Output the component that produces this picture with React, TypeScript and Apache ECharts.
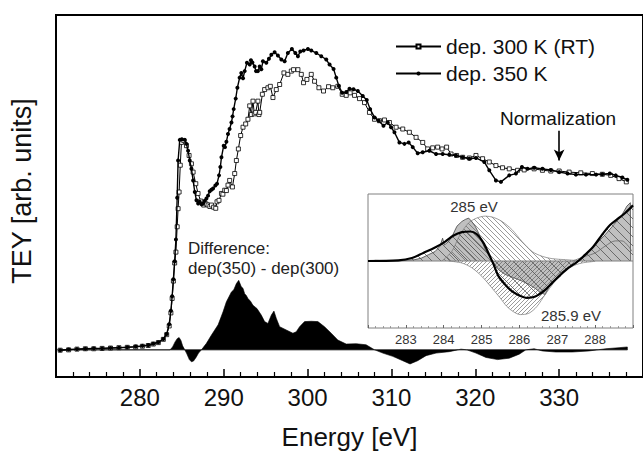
import React, { useEffect, useRef } from 'react';
import * as echarts from 'echarts';

const FONT = '"Liberation Sans", Arial, Helvetica, sans-serif';

// ---------- main spectra: [energy eV, TEY arb. units] ----------
const tey300: number[][] = [
  [270.5, -0.1], [271.5, 0.0], [272.5, 0.2], [273.5, 0.3], [274.5, 0.3], [275.5, 0.4], [276.5, 0.5],
  [277.5, 0.6], [278.5, 0.7], [279.5, 0.8], [280.3, 1.0], [281.0, 1.2], [281.6, 1.6], [282.2, 2.0],
  [282.8, 2.9], [283.2, 4.2], [283.5, 6.6], [283.7, 10.2], [283.85, 14.2], [284.0, 19.0], [284.15, 24.0],
  [284.3, 27.0], [284.45, 34.0], [284.56, 39.0], [284.68, 43.6], [284.82, 51.0], [284.96, 57.3],
  [285.24, 57.8], [285.56, 56.4], [285.87, 53.7], [286.15, 51.4], [286.35, 49.1], [286.67, 45.9],
  [286.94, 43.2], [287.26, 41.1], [287.62, 40.0], [287.9, 40.3], [288.13, 40.0], [288.35, 39.6],
  [288.54, 40.0], [288.8, 39.4], [289.05, 39.1], [289.2, 40.9], [289.44, 41.3], [289.73, 43.2],
  [289.9, 43.0], [290.12, 44.1], [290.32, 44.0], [290.51, 45.5], [290.71, 46.8], [291.04, 45.0],
  [291.31, 48.7], [291.51, 52.3], [291.75, 55.5], [292.02, 59.2], [292.3, 61.5], [292.62, 62.4],
  [292.89, 63.7], [293.1, 67.4], [293.3, 65.0], [293.49, 68.7], [293.65, 65.2], [293.81, 65.6],
  [294.08, 68.7], [294.2, 65.0], [294.29, 65.6], [294.61, 70.6], [294.88, 71.9], [295.27, 72.4],
  [295.56, 72.8], [295.87, 69.7], [296.27, 71.9], [296.67, 73.3], [297.18, 76.5], [297.65, 76.1],
  [298.06, 77.0], [298.33, 77.4], [298.85, 77.4], [299.25, 76.1], [299.52, 73.8], [299.92, 74.7],
  [300.44, 76.1], [300.83, 74.2], [301.35, 72.4], [301.9, 71.5], [302.5, 72.7], [303.01, 72.4],
  [303.61, 72.8], [304.13, 70.6], [304.61, 70.3], [305.08, 71.0], [305.6, 70.3], [306.19, 69.4],
  [306.79, 68.3], [307.38, 65.6], [307.98, 63.7], [308.57, 63.3], [309.17, 63.5], [309.76, 62.8],
  [310.56, 61.5], [311.35, 61.0], [312.14, 60.1], [312.94, 58.7], [313.73, 57.3], [314.32, 55.5],
  [314.92, 55.8], [315.51, 56.0], [316.04, 55.5], [316.58, 56.0], [317.11, 54.1], [317.77, 53.7],
  [318.49, 53.2], [319.29, 53.0], [320.08, 53.7], [320.87, 52.8], [321.67, 51.9], [322.46, 50.9],
  [323.25, 50.3], [324.05, 50.0], [325.04, 49.6], [325.83, 49.7], [327.02, 50.0], [328.01, 49.6],
  [329.01, 49.4], [330.0, 49.4], [331.19, 49.1], [332.58, 48.9], [333.96, 48.7], [335.15, 48.5],
  [336.15, 48.2], [337.14, 47.3], [338.01, 46.4],
];

const tey350: number[][] = [
  [270.5, -0.1], [271.5, 0.1], [272.5, 0.2], [273.5, 0.3], [274.5, 0.4], [275.5, 0.4], [276.5, 0.5],
  [277.5, 0.6], [278.5, 0.7], [279.5, 0.9], [280.3, 1.1], [281.0, 1.3], [281.6, 1.7], [282.2, 2.1],
  [282.8, 3.0], [283.2, 4.4], [283.5, 7.1], [283.7, 10.8], [283.85, 14.8], [284.0, 19.5], [284.15, 24.5],
  [284.3, 30.5], [284.45, 42.0], [284.56, 52.3], [284.76, 58.0], [285.0, 58.2], [285.36, 58.0],
  [285.56, 56.9], [285.75, 55.0], [285.95, 52.3], [286.15, 50.0], [286.35, 46.8], [286.55, 43.6],
  [286.75, 41.3], [286.95, 40.4], [287.14, 40.9], [287.35, 40.2], [287.54, 40.4], [287.75, 41.2],
  [287.94, 41.8], [288.13, 42.6], [288.33, 43.8], [288.53, 44.2], [288.73, 44.6], [289.0, 45.4],
  [289.2, 45.9], [289.44, 48.2], [289.6, 50.5], [289.73, 53.2], [290.0, 56.4], [290.15, 56.0],
  [290.32, 57.5], [290.51, 59.6], [290.7, 61.0], [290.92, 62.8], [291.05, 64.5], [291.19, 66.5],
  [291.43, 69.4], [291.63, 72.4], [291.9, 75.2], [292.1, 76.5], [292.3, 75.0], [292.5, 77.0],
  [292.77, 79.3], [293.1, 78.8], [293.25, 80.0], [293.42, 79.4], [293.69, 78.3], [293.85, 77.0],
  [294.08, 77.0], [294.29, 78.3], [294.48, 77.5], [294.68, 79.7], [295.08, 79.3], [295.39, 80.4],
  [295.68, 81.5], [296.07, 82.2], [296.46, 81.3], [296.87, 80.2], [297.26, 79.7], [297.65, 82.0],
  [298.13, 83.1], [298.54, 82.0], [298.85, 81.1], [299.13, 82.4], [299.52, 82.7], [300.04, 83.1],
  [300.44, 82.7], [301.04, 82.0], [301.63, 81.1], [302.23, 80.2], [302.62, 78.8], [303.1, 77.6],
  [303.42, 75.2], [303.73, 72.9], [304.13, 71.0], [304.61, 71.2], [305.0, 72.1], [305.48, 72.0],
  [305.99, 71.5], [306.58, 70.1], [307.06, 69.0], [307.46, 66.5], [307.98, 64.2], [308.49, 63.3],
  [309.05, 61.9], [309.56, 62.8], [309.96, 61.5], [310.36, 60.1], [310.95, 57.3], [311.55, 56.9],
  [312.06, 57.3], [312.54, 56.0], [313.13, 54.3], [313.73, 54.6], [314.52, 55.0], [315.32, 54.1],
  [316.11, 54.1], [316.9, 53.9], [317.7, 53.7], [318.49, 53.2], [319.29, 52.8], [320.08, 53.0],
  [321.07, 51.9], [321.67, 49.6], [322.46, 46.8], [323.06, 46.4], [324.05, 48.2], [324.85, 48.7],
  [325.56, 50.5], [326.23, 50.0], [327.02, 50.3], [328.01, 50.0], [329.01, 49.7], [330.0, 49.1],
  [331.0, 48.7], [332.0, 48.4], [333.2, 48.4], [334.4, 48.4], [335.15, 48.5], [336.04, 48.7],
  [336.75, 48.2], [337.54, 47.6], [338.13, 47.0],
];

// difference dep(350) - dep(300)
const difference: number[][] = [
  [270.5, 0], [283.6, 0], [283.9, 0.8], [284.2, 2.2], [284.45, 3.1], [284.68, 3.4], [284.9, 2.6],
  [285.1, 1.1], [285.36, 0], [285.6, -1.1], [285.9, -2.7], [286.15, -3.3], [286.4, -3.1], [286.7, -2.1],
  [287.0, -0.9], [287.34, 0], [287.94, 1.8], [288.54, 4.1], [289.33, 6.9], [289.92, 10.5], [290.32, 13.3],
  [290.92, 16.0], [291.2, 16.6], [291.51, 18.3], [291.79, 19.2], [292.1, 17.4], [292.3, 17.0],
  [292.5, 15.5], [292.7, 15.0], [292.89, 14.2], [293.2, 13.4], [293.49, 12.3], [293.97, 11.4],
  [294.48, 9.6], [294.88, 7.8], [295.27, 7.3], [295.68, 9.6], [295.99, 10.7], [296.27, 8.7],
  [296.67, 6.4], [297.46, 5.5], [298.25, 4.6], [298.65, 5.0], [299.05, 6.4], [299.64, 7.8],
  [300.44, 7.9], [301.23, 7.8], [302.02, 6.4], [302.82, 4.6], [303.61, 2.7], [304.61, 1.6],
  [305.8, 1.7], [306.98, 1.4], [307.78, 0.3], [308.0, 0], [308.97, -0.9], [310.16, -1.8],
  [311.35, -3.0], [312.22, -3.9], [313.13, -3.0], [314.13, -1.6], [315.32, -0.9], [316.9, -0.5],
  [318.3, 0.2], [319.0, 0], [320.08, -0.9], [321.27, -2.1], [322.66, -2.7], [324.05, -2.3],
  [325.24, -1.2], [326.03, 0], [327.02, 0.3], [328.0, -0.3], [329.6, -0.6], [331.58, -0.6],
  [333.57, -0.3], [335.56, 0.3], [337.14, 0.6], [338.13, 0.8], [338.14, 0],
];
const mainBaseline: number[][] = [[270, 0], [338.14, 0]];
const normArrow = { energy: 330, from: 60.5, to: 52.3 };
const xTicksMain = { min: 270, max: 340, interval: 10 };

// ---------- inset: [energy eV, normalized intensity] ----------
const insetMeasured: number[][] = [
  [282.0, 0], [282.2, 0.01], [282.4, 0.005], [282.8, 0], [283.24, 0.02], [283.42, 0.045], [283.6, 0.095],
  [283.77, 0.14], [283.9, 0.22], [283.97, 0.34], [284.02, 0.24], [284.13, 0.29], [284.24, 0.39],
  [284.35, 0.52], [284.48, 0.59], [284.57, 0.62], [284.66, 0.64], [284.74, 0.59], [284.83, 0.52],
  [284.92, 0.42], [285.01, 0.29], [285.1, 0.17], [285.23, 0.045], [285.32, -0.03], [285.45, -0.13],
  [285.62, -0.2], [285.85, -0.25], [286.07, -0.3], [286.25, -0.35], [286.42, -0.41], [286.55, -0.47],
  [286.68, -0.5], [286.77, -0.4], [286.9, -0.3], [287.08, -0.18], [287.3, -0.095], [287.57, -0.005],
  [287.74, 0.095], [288.0, 0.24], [288.26, 0.39], [288.49, 0.54], [288.71, 0.69], [288.84, 0.82],
  [288.93, 0.87], [288.94, 0],
];
const insetFit: number[][] = [
  [282.0, 0], [282.8, 0.01], [283.16, 0.045], [283.46, 0.12], [283.77, 0.2], [284.04, 0.29],
  [284.26, 0.38], [284.48, 0.43], [284.7, 0.44], [284.87, 0.4], [285.05, 0.27], [285.18, 0.12],
  [285.32, -0.055], [285.45, -0.23], [285.62, -0.35], [285.8, -0.45], [285.98, -0.51], [286.2, -0.55],
  [286.42, -0.53], [286.64, -0.45], [286.86, -0.33], [287.08, -0.21], [287.3, -0.1], [287.52, -0.015],
  [287.74, 0.095], [287.96, 0.22], [288.18, 0.39], [288.4, 0.54], [288.62, 0.64], [288.8, 0.72],
  [289.0, 0.83],
];
const peak285: number[][] = [
  [283.95, 0], [284.21, 0.14], [284.43, 0.39], [284.66, 0.57], [284.87, 0.64], [285.1, 0.67],
  [285.32, 0.65], [285.54, 0.59], [285.8, 0.47], [286.07, 0.29], [286.34, 0.14], [286.6, 0.07],
  [286.86, 0.035], [287.21, 0.02], [287.57, 0.005],
];
const peak2859: number[][] = [
  [284.13, 0], [284.48, -0.03], [284.74, -0.1], [285.01, -0.23], [285.27, -0.4], [285.49, -0.55],
  [285.67, -0.68], [285.85, -0.76], [286.02, -0.8], [286.25, -0.78], [286.46, -0.68], [286.68, -0.5],
  [286.9, -0.33], [287.13, -0.18], [287.39, -0.08], [287.65, -0.03], [288.0, -0.005],
];
const peakHigh: number[][] = [
  [287.4, 0], [287.74, 0.07], [288.0, 0.12], [288.26, 0.22], [288.53, 0.3], [288.71, 0.3],
  [288.88, 0.22], [288.97, 0.145],
];
const insetBaseline: number[][] = [[282, 0], [289, 0]];
const xTicksInset = { min: 282, max: 289, interval: 1 };

function hatch(dir: 'back' | 'fwd', s: number, color: string, w: number) {
  const d =
    dir === 'back'
      ? `M0,0 L${s},${s} M-1,${s - 1} L1,${s + 1} M${s - 1},-1 L${s + 1},1`
      : `M0,${s} L${s},0 M-1,1 L1,-1 M${s - 1},${s + 1} L${s + 1},${s - 1}`;
  const svg = `<svg xmlns="http://www.w3.org/2000/svg" width="${s}" height="${s}"><path d="${d}" stroke="${color}" stroke-width="${w}" fill="none"/></svg>`;
  return {
    image: 'data:image/svg+xml;charset=utf-8,' + encodeURIComponent(svg),
    repeat: 'repeat',
    imageWidth: s,
    imageHeight: s,
  } as any;
}

export default function App() {
  const ref = useRef<HTMLDivElement>(null);
  useEffect(() => {
    if (!ref.current) return;
    const chart = echarts.init(ref.current, undefined, { renderer: 'svg' });
    const option: any = {
      animation: false,
      backgroundColor: '#fff',
      textStyle: { fontFamily: FONT },
      legend: {
        orient: 'vertical',
        left: 395,
        top: 36,
        padding: 0,
        itemWidth: 45,
        itemHeight: 5,
        itemGap: 6,
        selectedMode: false,
        textStyle: { fontSize: 21, color: '#111', fontFamily: FONT },
        data: ['dep. 300 K (RT)', 'dep. 350 K'],
      },
      grid: [
        { left: 56, top: 15, width: 588, height: 365, show: true, borderColor: '#000', borderWidth: 2, backgroundColor: 'transparent' },
        { left: 368, top: 194, width: 265, height: 134, show: true, borderColor: '#808080', borderWidth: 1, backgroundColor: '#fff', z: 10 },
      ],
      xAxis: [
        {
          type: 'value', gridIndex: 0, min: xTicksMain.min, max: xTicksMain.max, interval: xTicksMain.interval,
          name: 'Energy [eV]', nameLocation: 'middle', nameGap: 47,
          nameTextStyle: { fontSize: 26, color: '#111', fontFamily: FONT },
          axisLine: { show: true, onZero: false, lineStyle: { color: '#000', width: 2 } },
          axisTick: { show: true, inside: true, length: 8, lineStyle: { color: '#000', width: 1.5 } },
          minorTick: { show: true, splitNumber: 5, length: 5, lineStyle: { color: '#000', width: 1.2 } },
          axisLabel: { fontSize: 24, color: '#111', margin: 8, showMinLabel: false, showMaxLabel: false, fontFamily: FONT },
          splitLine: { show: false },
        },
        {
          type: 'value', gridIndex: 1, min: xTicksInset.min, max: xTicksInset.max, interval: xTicksInset.interval, z: 11,
          axisLine: { show: false, onZero: false },
          axisTick: { show: true, inside: true, length: 3, lineStyle: { color: '#666', width: 1 } },
          minorTick: { show: true, splitNumber: 5, length: 2, lineStyle: { color: '#888', width: 0.8 } },
          axisLabel: { fontSize: 13, color: '#333', margin: 5, showMinLabel: false, showMaxLabel: false, fontFamily: FONT },
          splitLine: { show: false },
        },
      ],
      yAxis: [
        {
          type: 'value', gridIndex: 0, min: -7.5, max: 92.5,
          axisLine: { show: false }, axisTick: { show: false }, axisLabel: { show: false }, splitLine: { show: false },
        },
        {
          type: 'value', gridIndex: 1, min: -1, max: 1, z: 11,
          axisLine: { show: false }, axisTick: { show: false }, axisLabel: { show: false }, splitLine: { show: false },
        },
      ],
      series: [
        {
          name: 'baseline', type: 'line', xAxisIndex: 0, yAxisIndex: 0, data: mainBaseline, symbol: 'none',
          lineStyle: { color: '#000', width: 0.8 }, z: 2, silent: true,
        },
        {
          name: 'Difference', type: 'line', xAxisIndex: 0, yAxisIndex: 0, data: difference, symbol: 'none',
          lineStyle: { color: '#000', width: 0.6 }, areaStyle: { color: '#000', opacity: 1 }, z: 2,
        },
        {
          name: 'dep. 300 K (RT)', type: 'line', xAxisIndex: 0, yAxisIndex: 0, data: tey300,
          symbol: 'rect', symbolSize: 4, showAllSymbol: true,
          itemStyle: { color: '#fff', borderColor: '#000', borderWidth: 0.8 },
          lineStyle: { color: '#000', width: 1 }, z: 3,
        },
        {
          name: 'dep. 350 K', type: 'line', xAxisIndex: 0, yAxisIndex: 0, data: tey350,
          symbol: 'circle', symbolSize: 4, showAllSymbol: true,
          itemStyle: { color: '#000' },
          lineStyle: { color: '#000', width: 1.4 }, z: 4,
          markLine: {
            silent: true, symbol: ['none', 'arrow'], symbolSize: [8, 11],
            lineStyle: { color: '#000', width: 1.6, type: 'solid' }, label: { show: false },
            data: [[{ coord: [normArrow.energy, normArrow.from] }, { coord: [normArrow.energy, normArrow.to] }]],
          },
        },
        // inset
        {
          name: 'measured', type: 'line', xAxisIndex: 1, yAxisIndex: 1, data: insetMeasured, symbol: 'none',
          lineStyle: { color: '#444', width: 0.8 }, areaStyle: { color: '#c0c0c0', opacity: 1 }, z: 12,
        },
        {
          name: 'fitArea', type: 'line', xAxisIndex: 1, yAxisIndex: 1, data: insetFit, symbol: 'none',
          lineStyle: { width: 0, opacity: 0 }, areaStyle: { color: hatch('back', 9, '#444', 0.7), opacity: 1 }, z: 13,
        },
        {
          name: '285 eV', type: 'line', xAxisIndex: 1, yAxisIndex: 1, data: peak285, symbol: 'none', smooth: 0.3,
          lineStyle: { color: '#777', width: 0.7 }, areaStyle: { color: hatch('back', 5, '#555', 0.6), opacity: 1 }, z: 14,
        },
        {
          name: '285.9 eV', type: 'line', xAxisIndex: 1, yAxisIndex: 1, data: peak2859, symbol: 'none', smooth: 0.3,
          lineStyle: { color: '#777', width: 0.7 }, areaStyle: { color: hatch('fwd', 4, '#555', 0.6), opacity: 1 }, z: 14,
        },
        {
          name: 'high', type: 'line', xAxisIndex: 1, yAxisIndex: 1, data: peakHigh, symbol: 'none', smooth: 0.3,
          lineStyle: { color: '#666', width: 0.8 }, z: 15,
        },
        {
          name: 'insetBaseline', type: 'line', xAxisIndex: 1, yAxisIndex: 1, data: insetBaseline, symbol: 'none',
          lineStyle: { color: '#808080', width: 1 }, z: 15, silent: true,
        },
        {
          name: 'fit', type: 'line', xAxisIndex: 1, yAxisIndex: 1, data: insetFit, symbol: 'none', smooth: 0.3,
          lineStyle: { color: '#000', width: 2.2 }, z: 16,
        },
      ],
      graphic: [
        {
          type: 'text', x: 22, y: 191, rotation: Math.PI / 2, z: 20,
          style: { text: 'TEY [arb. units]', fontSize: 27, fill: '#111', fontFamily: FONT, textAlign: 'center', textVerticalAlign: 'middle' },
        },
        {
          type: 'text', x: 558, y: 118, z: 20,
          style: { text: 'Normalization', fontSize: 19, fill: '#111', fontFamily: FONT, textAlign: 'center', textVerticalAlign: 'middle' },
        },
        {
          type: 'text', x: 188, y: 248, z: 20,
          style: { text: 'Difference:', fontSize: 17, fill: '#222', fontFamily: FONT, textAlign: 'left', textVerticalAlign: 'middle' },
        },
        {
          type: 'text', x: 188, y: 268, z: 20,
          style: { text: 'dep(350) - dep(300)', fontSize: 17, fill: '#222', fontFamily: FONT, textAlign: 'left', textVerticalAlign: 'middle' },
        },
        {
          type: 'text', x: 474, y: 206, z: 30,
          style: { text: '285 eV', fontSize: 15, fill: '#333', fontFamily: FONT, textAlign: 'center', textVerticalAlign: 'middle' },
        },
        {
          type: 'text', x: 571, y: 315, z: 30,
          style: { text: '285.9 eV', fontSize: 15, fill: '#333', fontFamily: FONT, textAlign: 'center', textVerticalAlign: 'middle' },
        },
      ],
    };
    chart.setOption(option);
    return () => chart.dispose();
  }, []);
  return <div ref={ref} style={{ width: 643, height: 455, position: 'absolute', left: 0, top: 0 }} />;
}
